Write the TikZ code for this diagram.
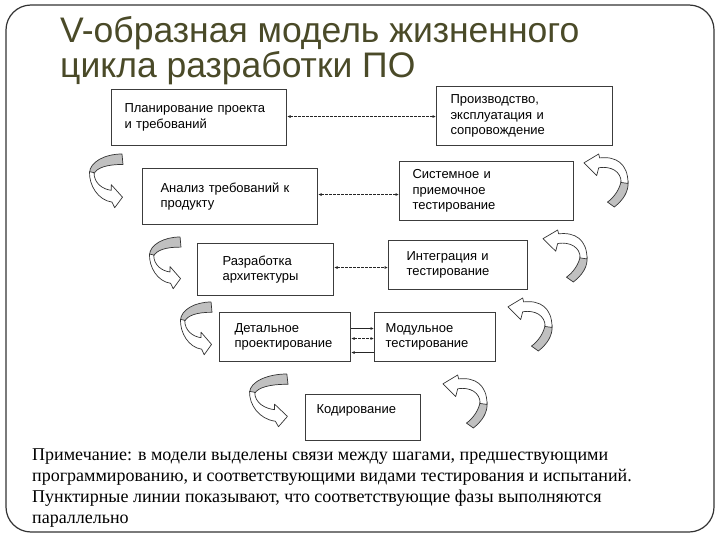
\documentclass[tikz,border=0pt]{standalone}
\usepackage{fontspec}
\setmainfont{Liberation Serif}
\newfontfamily\arialf{Liberation Sans}
\usetikzlibrary{arrows.meta}
\definecolor{titlecol}{RGB}{74,74,40}
\definecolor{boxline}{RGB}{60,60,60}
\definecolor{ribbon}{RGB}{192,192,192}
\tikzset{
  stage/.style={draw=boxline, line width=1.1pt, fill=white, anchor=north west,
    inner ysep=0pt, align=left,
    font=\arialf\fontsize{13}{15.5}\selectfont},
  par/.style={dash pattern=on 2.5pt off 1.5pt, line width=0.7pt, draw=black!85,
    {Latex[length=3.5pt,width=3pt]}-{Latex[length=3.5pt,width=3pt]}},
  seq/.style={line width=0.7pt, draw=black!85, -{Latex[length=3.5pt,width=3pt]}},
  turnline/.style={draw=black!80, line width=0.7pt, line join=round},
  titletext/.style={anchor=base west, inner sep=0pt, text=titlecol,
    font=\arialf\fontsize{35.5}{32}\selectfont},
  notetext/.style={anchor=base west, inner sep=0pt, font=\fontsize{18}{21}\selectfont}
}
% curved ribbon arrow going down-right, drawn in a 34 x 55 box (y downwards)
\newcommand\ribbondown{%
  \filldraw[turnline, fill=ribbon]
    (33,0) .. controls (16,0) and (1,8) .. (0.5,19)
    -- (5,20) .. controls (8,14) and (18,10.5) .. (34,10.7) -- cycle;
  \filldraw[turnline, fill=white]
    (0.5,18) .. controls (0,32) and (9,47) .. (23,49)
    -- (25.7,54.7) -- (33.5,44) -- (22.3,31.3) -- (22.3,37)
    .. controls (14,36) and (5,30) .. (5,19) -- cycle;
}
% curved ribbon arrow going up-left, drawn in a 46 x 54 box (y downwards)
\newcommand\ribbonup{%
  \filldraw[turnline, fill=ribbon]
    (24,49) -- (31,54) .. controls (40,47) and (46,38) .. (45,28)
    -- (38,27) .. controls (37,35) and (31,44) .. (24,49) -- cycle;
  \filldraw[turnline, fill=white]
    (45,30) .. controls (45,10) and (33,2) .. (16,4)
    -- (15,0) -- (0,9) -- (13,22) -- (15,14)
    .. controls (28,12) and (38,18) .. (38,29) -- cycle;
}
\newcommand\leftturn[4]{%
  \begin{scope}[shift={(#1,#2)}, xscale=#3/34, yscale=#4/55]\ribbondown\end{scope}}
\newcommand\rightturn[4]{%
  \begin{scope}[shift={(#1,#2)}, xscale=#3/46, yscale=#4/54]\ribbonup\end{scope}}
\begin{document}
\begin{tikzpicture}[x=1pt,y=-1pt]
  \fill[white] (0,0) rectangle (720,540);
  \useasboundingbox (0,0) rectangle (720,540);
  \draw[rounded corners=25pt, line width=1.2pt, draw=black!80] (6,5) rectangle (714,532);

  \node[titletext] (title1) at (60,43) {V-образная модель жизненного};
  \node[titletext] (title2) at (60,77.5) {цикла разработки ПО};

  \node[stage, text width=149pt, inner xsep=13pt, minimum height=56pt] (b1) at (111,89)
    {Планирование проекта\\и требований};
  \node[stage, text width=148pt, inner xsep=14pt, minimum height=59pt] (b2) at (436,86)
    {Производство,\\эксплуатация и\\сопровождение};
  \node[stage, text width=139pt, inner xsep=18pt, minimum height=56pt] (b3) at (142,168)
    {Анализ требований к\\продукту};
  \node[stage, text width=148pt, inner xsep=13pt, minimum height=59pt] (b4) at (399,161)
    {Системное и\\приемочное\\тестирование};
  \node[stage, text width=86pt, inner xsep=25pt, minimum height=52pt] (b5) at (197,243)
    {Разработка\\архитектуры};
  \node[stage, text width=103pt, inner xsep=18pt, minimum height=49pt] (b6) at (388,240)
    {Интеграция и\\тестирование};
  \node[stage, text width=101pt, inner xsep=15pt, minimum height=49pt] (b7) at (219,312)
    {Детальное\\проектирование};
  \node[stage, text width=99pt, inner xsep=11pt, minimum height=49pt] (b8) at (374,312)
    {Модульное\\тестирование};
  \node[stage, text width=93pt, inner xsep=11pt, text height=18.5pt, text depth=27.5pt] (b9) at (305,394)
    {Кодирование};

  \draw[par] ([yshift=1pt]b1.east) -- ([yshift=1pt]b1.east -| b2.west);
  \draw[par] ([yshift=2pt]b3.east) -- ([yshift=2pt]b3.east -| b4.west);
  \draw[par] ([yshift=2pt]b5.east) -- ([yshift=2pt]b5.east -| b6.west);
  \draw[seq] ([yshift=8.5pt]b7.east) -- ([yshift=8.5pt]b8.west);
  \draw[par] ([yshift=-1.5pt]b7.east) -- ([yshift=-1.5pt]b8.west);
  \draw[seq] ([yshift=-15.5pt]b8.west) -- ([yshift=-15.5pt]b7.east);

  \leftturn{89}{154}{34}{54}
  \leftturn{149}{237}{32}{52}
  \leftturn{180}{302}{32}{53}
  \leftturn{249}{374}{39}{53}
  \rightturn{584}{154}{45}{53}
  \rightturn{543}{230}{45}{52}
  \rightturn{508}{298}{45}{53}
  \rightturn{443}{375}{45}{53}

  \node[notetext] (note1) at (32,460) {Примечание: в модели выделены связи между шагами, предшествующими};
  \node[notetext] (note2) at (32,481) {программированию, и соответствующими видами тестирования и испытаний.};
  \node[notetext] (note3) at (32,502) {Пунктирные линии показывают, что соответствующие фазы выполняются};
  \node[notetext] (note4) at (32,523) {параллельно};
\end{tikzpicture}
\end{document}
